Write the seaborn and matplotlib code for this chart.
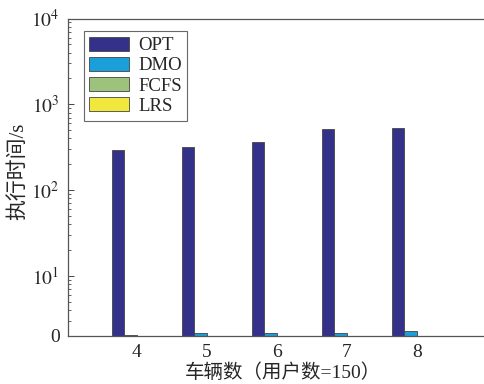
import numpy as np
import pandas as pd
import matplotlib
matplotlib.use('Agg')
import matplotlib.pyplot as plt
from matplotlib.ticker import FixedLocator, LogLocator, NullFormatter
import seaborn as sns

# values (seconds, log axis)
vehicles = ['4', '5', '6', '7', '8']
methods = ['OPT', 'DMO', 'FCFS', 'LRS']
opt_time = [290, 317, 360, 522, 531]
dmo_time = [2.07, 2.15, 2.15, 2.18, 2.26]
fcfs_time = [1.5, 1.5, 1.5, 1.5, 1.5]   # below the axis floor, not visible
lrs_time = [1.2, 1.2, 1.2, 1.2, 1.2]
colors = ['#34318b', '#1b9fd8', '#9cc27b', '#f0e83c']
y_floor = 2

sns.set_style('white')
plt.rcParams['font.family'] = ['Liberation Serif', 'Noto Sans CJK SC']
plt.rcParams['mathtext.fontset'] = 'stix'

rows = []
for m, vals in zip(methods, [opt_time, dmo_time, fcfs_time, lrs_time]):
    for v, t in zip(vehicles, vals):
        rows.append({'vehicles': v, 'method': m, 'time': t})
df = pd.DataFrame(rows)

fig = plt.figure(figsize=(4.84, 3.84), dpi=100)
# axes run past the right edge of the figure, as in the reference
ax = fig.add_axes([68 / 484, 48 / 384, 440 / 484, 317.5 / 384])

sns.barplot(data=df, x='vehicles', y='time', hue='method', order=vehicles,
            hue_order=methods, palette=colors, width=0.714, ax=ax,
            edgecolor='#444444', linewidth=0.6, saturation=1, errorbar=None)

ax.set_yscale('log')
ax.set_ylim(y_floor, 1e4)
ax.set_xlim(-0.98, 5.3)

ax.yaxis.set_major_locator(FixedLocator([y_floor, 10, 100, 1000, 10000]))
ax.set_yticklabels(['0', r'$10^1$', r'$10^2$', r'$10^3$', r'$10^4$'], fontsize=14)
ax.yaxis.set_minor_locator(LogLocator(base=10, subs=np.arange(2, 10)))
ax.yaxis.set_minor_formatter(NullFormatter())
ax.tick_params(axis='y', which='major', direction='in', length=4, width=0.6,
               left=True, pad=6)
ax.tick_params(axis='y', which='minor', direction='in', length=2, width=0.5,
               left=True)
ax.tick_params(axis='x', bottom=False, labelsize=14, pad=2)

for side in ['top', 'left', 'bottom']:
    ax.spines[side].set_color('#555555')
    ax.spines[side].set_linewidth(0.9)
ax.spines['right'].set_visible(False)

ax.set_xlabel('车辆数（用户数=150）', fontsize=14, va='top')
ax.xaxis.set_label_coords(0.488, -0.085)
ax.set_ylabel('执行时间/s', fontsize=15, va='center')
ax.yaxis.set_label_coords(-0.114, 0.52)

leg = ax.legend(loc='upper left', bbox_to_anchor=(0.036, 0.96), fontsize=13.5,
                frameon=True, fancybox=False, edgecolor='#444444',
                handlelength=2.1, handleheight=0.75, handletextpad=0.5,
                labelspacing=0.15, borderpad=0.3, borderaxespad=0.0)
leg.get_frame().set_linewidth(0.8)

fig.savefig('out.png', dpi=100)
